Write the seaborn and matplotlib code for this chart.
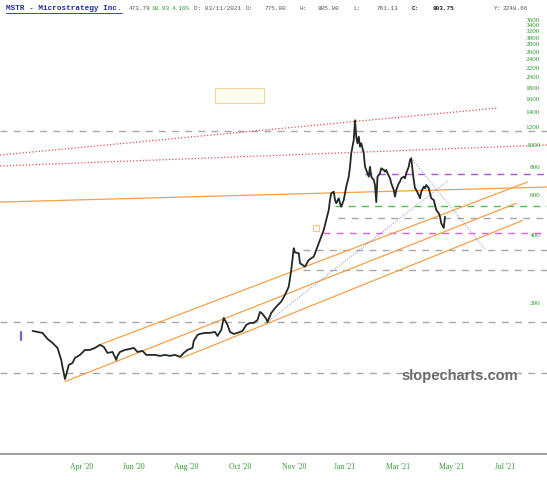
import numpy as np
import pandas as pd
import seaborn as sns
import matplotlib.pyplot as plt
from matplotlib.patches import Rectangle
from matplotlib.lines import Line2D
from matplotlib.ticker import NullLocator, NullFormatter

# price path (session index, close)
price_path = [
    (2, 150.3), (6, 148.8), (10, 147.3), (14, 138.5), (18, 133.0), (22, 126.4),
    (23, 121.3), (25, 111.8), (26, 104.0), (28, 92.0), (30, 100.9), (31, 106.2),
    (34, 108.4), (36, 114.1), (40, 117.7), (44, 123.8), (48, 123.8), (52, 126.4),
    (56, 130.3), (59, 127.7), (62, 120.1), (66, 121.3), (69, 111.8), (70, 116.5),
    (72, 121.3), (76, 123.8), (80, 125.1), (83, 126.4), (86, 121.3), (90, 122.6),
    (93, 117.7), (96, 117.7), (100, 117.7), (104, 116.5), (108, 117.7), (112, 116.5),
    (116, 117.7), (120, 115.3), (123, 120.1), (126, 123.8), (130, 126.4), (131, 135.7),
    (134, 144.3), (136, 145.8), (140, 147.3), (144, 147.3), (148, 148.8), (150, 142.8),
    (153, 151.8), (155, 171.6), (158, 159.8), (160, 148.8), (163, 145.8), (166, 147.3),
    (170, 150.3), (173, 159.8), (176, 163.1), (179, 163.1), (182, 168.1), (184, 182.5),
    (186, 178.8), (189, 169.9), (190, 164.7), (193, 180.6), (197, 192.6), (201, 202.7),
    (204, 217.0), (207, 236.2), (209, 280.1), (211, 349.5), (212, 335.0), (215, 332.1),
    (216, 299.9), (220, 289.7), (223, 310.2), (227, 320.8), (229, 343.5), (232, 380.4),
    (235, 421.3), (237, 466.5), (239, 516.6), (240, 572.1), (241, 612.6), (243, 622.7),
    (244, 572.1), (245, 553.2), (247, 582.1), (248, 553.2), (249, 534.3), (251, 572.1),
    (252, 612.6), (253, 655.3), (255, 725.7), (256, 803.7), (257, 921.4), (259, 1055.4),
    (260, 1290.0), (261, 1091.4), (262, 1020.4), (263, 1091.4), (264, 985.6), (265, 1020.4),
    (267, 921.4), (268, 803.7), (269, 777.0), (271, 725.7), (272, 803.7), (273, 725.7),
    (275, 701.7), (276, 666.8), (277, 560.0), (278, 725.7), (280, 751.3), (281, 790.7),
    (283, 777.0), (284, 763.7), (285, 777.0), (286, 751.3), (288, 713.9), (289, 678.4),
    (291, 633.6), (292, 591.7), (293, 633.6), (295, 678.4), (296, 689.6), (297, 713.9),
    (299, 725.7), (300, 713.9), (301, 751.3), (303, 803.7), (304, 860.5), (305, 875.6),
    (306, 777.0), (307, 701.7), (308, 644.7), (309, 633.6), (311, 602.0), (312, 582.1),
    (313, 622.7), (315, 655.3), (316, 644.7), (317, 666.8), (319, 644.7), (320, 612.6),
    (321, 582.1), (323, 572.1), (324, 543.7), (325, 516.6), (327, 499.5), (328, 482.5),
    (329, 451.1), (331, 430.0), (332, 482.5),
]

tick_pos = [41, 83, 125, 168, 211, 252, 294, 337, 380]
tick_labels = ["Apr '20", "Jun '20", "Aug '20", "Oct '20", "Nov '20",
               "Jan '21", "Mar '21", "May '21", "Jul '21"]
y_ticks = [200, 400, 600, 800, 1000, 1200, 1400, 1600, 1800, 2000,
           2200, 2400, 2600, 2800, 3000, 3200, 3400, 3600]

# horizontal levels
gray_full = [1157, 163.9, 97.9]
gray_short = [477, 343, 280]
gray_short_start = [246, 218, 218]
purple_level, purple_start = 743, 268
green_level, green_start = 537, 244
pink_level, pink_start = 410, 234

# trend lines as (session, price) end points
red_upper = [(-24, 905), (374, 1463)]
red_lower = [(-24, 809), (414, 1003)]
orange_flat = [(-24, 560), (414, 653)]
channel_top = [(55, 130), (398, 687)]
channel_mid = [(28, 89.6), (389, 553)]
channel_low = [(121, 113.8), (394, 464)]
blue_up = [(190, 164.7), (334, 694.5)]
blue_down = [(305, 876), (364, 346)]

note_box = [(148, 1539), (187, 1794)]
note_marker = (229, 430)
volume_tick = (-7, 137, 149)

header = [
    ("473.79", "#555555", "normal"), ("18.93", "#2a9a2a", "normal"),
    ("4.16%", "#2a9a2a", "normal"), ("D: 03/11/2021", "#555555", "normal"),
    ("O:", "#555555", "normal"), ("775.00", "#555555", "normal"),
    ("H:", "#555555", "normal"), ("805.00", "#555555", "normal"),
    ("L:", "#555555", "normal"), ("761.13", "#555555", "normal"),
    ("C:", "#222222", "bold"), ("803.75", "#222222", "bold"),
    ("Y:", "#555555", "normal"), ("2248.66", "#555555", "normal"),
]
header_x = [129, 152, 172, 194, 246, 264, 300, 318, 353, 376, 412, 433, 494, 503]

sns.set_style("white")
plt.rcParams['font.family'] = ['Liberation Serif', 'DejaVu Serif']

W, H = 547, 480
fig = plt.figure(figsize=(W / 100, H / 100), dpi=100)
ax = fig.add_axes([0, 26 / H, 1, 454 / H])

df = pd.DataFrame(price_path, columns=["session", "close"])
sns.lineplot(data=df, x="session", y="close", ax=ax, color="#232a23",
             linewidth=1.3, estimator=None, sort=False, zorder=5)

ax.set_yscale("log")
ax.set_xlim(-24, 413.6)
ax.set_ylim(42.8, 4404)

dash = (0, (5, 4.5))
xmin, xmax = ax.get_xlim()
for lvl in gray_full:
    ax.plot([xmin, xmax], [lvl, lvl], color="#a8a8a8", lw=1, ls=dash, zorder=2)
for lvl, s0 in zip(gray_short, gray_short_start):
    ax.plot([s0, xmax], [lvl, lvl], color="#a8a8a8", lw=1, ls=dash, zorder=2)
ax.plot([purple_start, xmax], [purple_level] * 2, color="#b050e0", lw=1, ls=dash, zorder=2)
ax.plot([green_start, xmax], [green_level] * 2, color="#4cc04c", lw=1, ls=dash, zorder=2)
ax.plot([pink_start, xmax], [pink_level] * 2, color="#e060e0", lw=1, ls=dash, zorder=2)

for seg in (red_upper, red_lower):
    (s0, p0), (s1, p1) = seg
    ax.plot([s0, s1], [p0, p1], color="#e05050", lw=0.9, ls=(0, (1, 1.6)), zorder=3)
for seg in (orange_flat, channel_top, channel_mid, channel_low):
    (s0, p0), (s1, p1) = seg
    ax.plot([s0, s1], [p0, p1], color="#f5a04a", lw=0.9, zorder=3)
for seg in (blue_up, blue_down):
    (s0, p0), (s1, p1) = seg
    ax.plot([s0, s1], [p0, p1], color="#8888e8", lw=0.7, ls=(0, (1, 1.6)), zorder=3)

(b0, c0), (b1, c1) = note_box
ax.add_patch(Rectangle((b0, c0), b1 - b0, c1 - c0, facecolor="#fffcf0",
                       edgecolor="#f7d5a0", lw=0.8, zorder=1))
ax.plot([note_marker[0]], [note_marker[1]], marker="s", ms=4.5, mfc="none",
        mec="#f5c890", mew=0.8, zorder=4)
ax.plot([volume_tick[0]] * 2, volume_tick[1:], color="#6a6ad0", lw=1.6, zorder=4)

# axes styling
for side in ("top", "left", "right"):
    ax.spines[side].set_visible(False)
ax.spines["bottom"].set_color("#8a8a8a")
ax.spines["bottom"].set_linewidth(1.2)

ax.yaxis.tick_right()
ax.set_yticks(y_ticks)
ax.set_yticklabels([str(v) for v in y_ticks])
ax.yaxis.set_minor_locator(NullLocator())
ax.yaxis.set_minor_formatter(NullFormatter())
ax.tick_params(axis="y", length=0, pad=-5, labelsize=5.2, labelcolor="#2f9a2f")
for lab in ax.get_yticklabels():
    lab.set_horizontalalignment("right")

ax.set_xticks(tick_pos)
ax.set_xticklabels(tick_labels)
ax.tick_params(axis="x", length=0, pad=6.5, labelsize=5.6, labelcolor="#2f9a2f")
ax.set_xlabel("")
ax.set_ylabel("")

# header line
hy = 1 - 8 / H
fig.text(6 / W, hy, "MSTR - Microstrategy Inc.", color="#1f2e9e", fontsize=5.5,
         fontweight="bold", family="Liberation Mono", va="center")
fig.add_artist(Line2D([6 / W, 122 / W], [1 - 12.5 / H] * 2, color="#1f2e9e", lw=0.6))
for (txt, col, wt), x in zip(header, header_x):
    fig.text(x / W, hy, txt, color=col, fontsize=4.3, fontweight=wt,
             family="Liberation Mono", va="center")

fig.text(460 / W, 1 - 376 / H, "slopecharts.com", color="#6b6b6b", fontsize=10.5,
         fontweight="bold", family="Liberation Sans", ha="center", va="center")

fig.savefig("out.png", dpi=100)
